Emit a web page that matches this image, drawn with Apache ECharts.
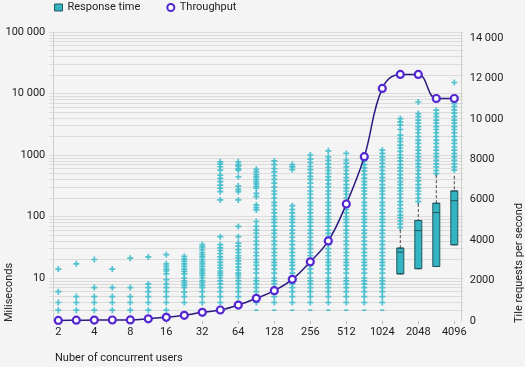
<!DOCTYPE html>
<html><head><meta charset="utf-8">
<script src="https://cdn.jsdelivr.net/npm/echarts@6/dist/echarts.min.js"></script>
<style>html,body{margin:0;padding:0;background:#f4f4f4;}#c{width:525px;height:367px;}</style>
</head><body><div id="c"></div>
<script>
const users = ['2','3','4','6','8','12','16','24','32','48','64','96','128','192','256','384','512','768','1024','1536','2048','3072','4096'];
const throughput = [30,40,45,50,55,110,180,280,430,545,790,1120,1500,2060,2930,3960,5790,8130,11510,12200,12200,11010,11010];
// box statistics (ms); null = no visible box
const whiskerLow = [null,null,null,null,null,null,null,null,null,null,null,3,3,3,3,3,3,3,3,11.7,14.2,15.4,34.7];
const q1         = [null,null,null,null,null,null,null,null,null,null,null,3,3,3,3,3,3,3,3,11.7,14.2,15.4,34.7];
const median     = [null,null,null,null,null,null,null,null,null,null,null,3,3,3,3,3,3,3,3,26.4,59,116,181];
const q3         = [null,null,null,null,null,null,null,null,null,null,null,3,3,3,3,3,3,3,3,30.6,86,164,260];
const whiskerHigh= [null,null,null,null,null,null,null,null,null,null,null,3,3,3,3,3,3,3,3,60,160,470,450];
// outliers per category (ms)
const outliers = [
  [14,6,4,3],
  [17,5,4,3],
  [20,7,5,4,3],
  [14,7,5,4,3],
  [21,7,5,4,3],
  [22,8,7,6,5,4,3],
  [24,17,15.5,14,13,11.7,9.4,8,7,6,5,4,3],
  [22.4,20.3,18.6,17,15.5,14,12.8,11.7,10,9,8.3,7.6,7,5.9,5,4],
  [35,32,29,26,24,22,20,18.5,17,15.5,14,13,12,11,10,9,8.3,7.6,7,6,5,4],
  [776,712,644,569,472,418,368,325,288,253,186,47,35,31,28,25,22,20,18,16,14.5,13,12,11,10,9,8,7,6,5,4],
  [776,700,660,600,569,443,313,276,253,186,69,47,37,33,29,26,23,21,19,17,15,13.5,12,11,10,9,8,7,6,5,4],
  [585,530,480,440,400,370,340,310,288,238,210,154,140,128,83,69,60,53,46,40,35,30,26,23,20,18,16,14,12,10,9,8,7,6,5,4],
  [800,700,600,530,460,400,350,300,260,230,200,170,150,130,115,100,90,80,70,60,53,46,40,35,30,26,23,20,18,16,14,12,10,9,8,7,6,5,4],
  [700,640,580,150,130,115,100,90,80,70,60,53,46,40,35,30,26,23,20,18,16,14,12,10,9,8,7,6,5,4],
  [1000,860,750,650,580,510,450,400,350,300,260,230,200,170,150,130,115,100,90,80,70,60,53,46,40,35,30,26,23,20,18,16,14,12,10,9,8,7,6,5,4],
  [1170,935,820,720,630,560,500,440,390,340,300,260,230,200,170,150,130,115,100,90,80,70,60,53,46,40,35,30,26,23,20,18,16,14,12,10,9,8,7,6,5,4],
  [1060,830,730,640,560,490,430,380,330,290,260,230,200,170,150,130,115,100,90,80,70,60,53,46,40,35,30,26,23,20,18,16,14,12,10,9,8,7,6,5,4],
  [800,700,620,550,480,420,370,330,290,260,230,200,170,150,130,115,100,90,80,70,60,53,46,40,35,30,26,23,20,18,16,14,12,10,9,8,7,6,5,4],
  [1200,1060,935,830,730,640,560,490,430,380,330,290,260,230,200,170,150,130,115,100,90,80,70,60,53,46,40,35,30,26,23,20,18,16,14,12,10,9,8,7,6,5,4],
  [3900,3450,3050,2600,2100,1850,1650,1450,1300,1150,1000,900,800,700,620,550,480,420,370,330,290,260,230,200,175,155,135,120,105,95,85,75,66],
  [7280,4720,4200,3700,3300,2900,2600,2300,2000,1750,1550,1350,1200,1050,930,820,720,640,560,490,430,380,330,290,260,230,200,175],
  [5350,4700,4200,3700,3300,2900,2600,2300,2000,1750,1550,1350,1200,1050,930,820,720,640,560,500],
  [15100,6850,6100,5400,4800,4200,3700,3300,2900,2600,2300,2000,1750,1550,1350,1200,1050,930,820,720,640,570]
];
const minorGrid = [3,4,5,6,7,8,9,20,30,40,50,60,70,80,90,200,300,400,500,600,700,800,900,2000,3000,4000,5000,6000,7000,8000,9000,20000,30000,40000,50000,60000,70000,80000,90000];

const TEAL = '#3fbccb', BOX = '#33b4c2', BOXB = '#24545c', PURPLE = '#5427d2', LINE = '#2c1a80';
const FONT = 'Roboto';
const plus = 'path://M5,0H9V5H14V9H9V14H5V9H0V5H5Z';
function fmt(v){ v = Math.round(v); return v >= 10000 ? String(v).replace(/\B(?=(\d{3})+(?!\d))/g,' ') : String(v); }

const scatterData = [];
outliers.forEach((arr, i) => arr.forEach(v => scatterData.push([i, v])));
const boxData = users.map((u, i) => (q1[i] == null || q1[i] === q3[i]) ? '-' : [q1[i], q1[i], median[i], q3[i], q3[i]]);
const flatBoxData = users.map((u, i) => (q1[i] != null && q1[i] === q3[i]) ? [q1[i], q1[i], median[i], q3[i], q3[i]] : '-');
const whiskerData = users.map((u, i) => (whiskerHigh[i] == null || whiskerHigh[i] === q3[i]) ? '-' : [whiskerLow[i], q1[i], median[i], q3[i], whiskerHigh[i]]);

function hiddenX() { return { type: 'category', data: users, boundaryGap: true, show: false }; }

const chart = echarts.init(document.getElementById('c'));
chart.setOption({
  backgroundColor: '#f4f4f4',
  animation: false,
  textStyle: { fontFamily: FONT },
  grid: { left: 49.3, right: 61.7, top: 32, bottom: 46 },
  legend: {
    left: 54, top: 2, padding: 0, itemWidth: 8, itemHeight: 7, itemGap: 26,
    textStyle: { fontFamily: FONT, fontSize: 11, color: '#222' },
    data: [
      { name: 'Response time', icon: 'rect', itemStyle: { color: BOX, borderColor: BOXB, borderWidth: 1 } },
      { name: 'Throughput', icon: 'circle', itemStyle: { color: '#fff', borderColor: PURPLE, borderWidth: 2 } }
    ]
  },
  xAxis: [{
    type: 'category', data: users, boundaryGap: true,
    axisLine: { show: false },
    axisTick: { show: true, alignWithLabel: true, interval: 1, length: 3, lineStyle: { color: '#bbb' } },
    axisLabel: { interval: 1, margin: 6, fontSize: 11, color: '#222', fontFamily: FONT },
    splitLine: { show: false }
  }, hiddenX(), hiddenX()],
  yAxis: [
    { type: 'log', logBase: 10, min: 2, max: 100000, offset: -4,
      axisLine: { show: true, lineStyle: { color: '#cfcfcf' } },
      axisTick: { show: false },
      axisLabel: { showMinLabel: false, margin: 8, fontSize: 11, color: '#222', fontFamily: FONT, formatter: fmt },
      splitLine: { show: true, showMinLine: false, lineStyle: { color: '#dcdcdc', width: 1 } }
    },
    { type: 'value', min: 0, max: 14300, interval: 2000, offset: -1.6,
      axisLine: { show: true, lineStyle: { color: '#cfcfcf' } },
      axisTick: { show: false },
      axisLabel: { showMaxLabel: false, margin: 8, fontSize: 11, color: '#222', fontFamily: FONT, formatter: fmt, verticalAlign: 'middle', padding: [0,0,7,0] },
      splitLine: { show: false }
    }
  ],
  series: [
    { name: 'Whiskers', type: 'boxplot', xAxisIndex: 1, yAxisIndex: 0, z: 3, boxWidth: [1, 1],
      data: whiskerData, silent: true,
      itemStyle: { color: 'rgba(0,0,0,0)', borderColor: '#4a4a4a', borderWidth: 1, borderType: [3, 2] },
      emphasis: { disabled: true },
      markLine: { silent: true, symbol: 'none', z: 0, label: { show: false },
        lineStyle: { color: '#dcdcdc', width: 1, type: 'solid' },
        emphasis: { disabled: true },
        data: minorGrid.map(v => ({ yAxis: v })) }
    },
    { name: 'Outliers', type: 'scatter', xAxisIndex: 0, yAxisIndex: 0, z: 2, data: scatterData, silent: true,
      symbol: plus, symbolSize: 6, itemStyle: { color: TEAL, opacity: 0.9 } },
    { name: 'Flat boxes', type: 'boxplot', xAxisIndex: 2, yAxisIndex: 0, z: 3, boxWidth: [4, 4],
      data: flatBoxData, silent: true,
      itemStyle: { color: TEAL, borderColor: TEAL, borderWidth: 1.5 },
      emphasis: { disabled: true }
    },
    { name: 'Response time', type: 'boxplot', xAxisIndex: 0, yAxisIndex: 0, z: 4, boxWidth: [7, 7],
      data: boxData, silent: true,
      itemStyle: { color: BOX, borderColor: BOXB, borderWidth: 1 },
      emphasis: { disabled: true }
    },
    { name: 'Throughput', type: 'line', xAxisIndex: 0, yAxisIndex: 1, z: 6, data: throughput,
      smooth: 0.4, showAllSymbol: true, symbol: 'circle', symbolSize: 7,
      lineStyle: { color: LINE, width: 1.5 },
      itemStyle: { color: '#fff', borderColor: PURPLE, borderWidth: 2.2 },
      emphasis: { disabled: true }
    }
  ],
  graphic: [
    { type: 'text', x: 9, y: 322, rotation: Math.PI / 2,
      style: { text: 'Miliseconds', fontFamily: FONT, fontSize: 11, fill: '#222', align: 'left', verticalAlign: 'middle', textAlign: 'left', textVerticalAlign: 'middle' } },
    { type: 'text', x: 519, y: 323, rotation: Math.PI / 2,
      style: { text: 'Tile requests per second', fontFamily: FONT, fontSize: 11, fill: '#222', align: 'left', verticalAlign: 'middle', textAlign: 'left', textVerticalAlign: 'middle' } },
    { type: 'text', x: 55, y: 358,
      style: { text: 'Nuber of concurrent users', fontFamily: FONT, fontSize: 11, fill: '#222', align: 'left', verticalAlign: 'middle', textAlign: 'left', textVerticalAlign: 'middle' } }
  ]
});
</script></body></html>
